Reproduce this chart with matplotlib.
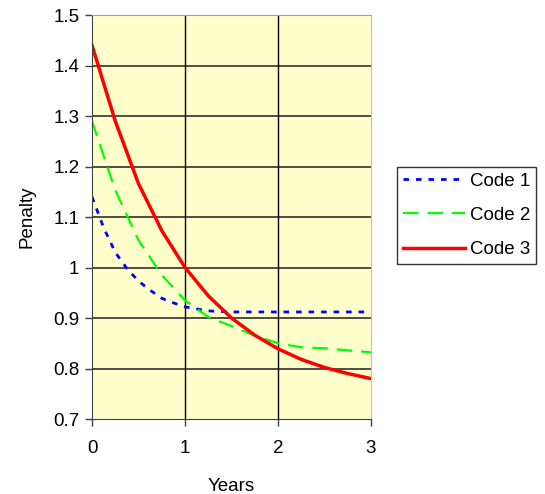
import numpy as np
import matplotlib
matplotlib.use("Agg")
import matplotlib.pyplot as plt

plt.rcParams['font.family'] = ['Liberation Sans', 'DejaVu Sans']

# values
years_1 = [0, 0.125, 0.25, 0.375, 0.5, 0.625, 0.75, 0.875, 1.0, 1.25, 1.5, 1.75, 2.0, 2.25, 2.5, 2.75, 3.0]
code_1 = [1.14, 1.079, 1.03, 0.998, 0.973, 0.955, 0.939, 0.93, 0.922, 0.914, 0.912, 0.912, 0.912, 0.912, 0.912, 0.912, 0.912]

years_2 = [0, 0.25, 0.5, 0.75, 1.0, 1.25, 1.5, 1.75, 2.0, 2.25, 2.5, 2.75, 3.0]
code_2 = [1.29, 1.153, 1.054, 0.985, 0.935, 0.902, 0.884, 0.865, 0.85, 0.842, 0.840, 0.836, 0.832]

years_3 = [0, 0.25, 0.5, 0.75, 1.0, 1.25, 1.5, 1.75, 2.0, 2.25, 2.5, 2.75, 3.0]
code_3 = [1.44, 1.29, 1.166, 1.073, 1.0, 0.944, 0.9, 0.866, 0.839, 0.818, 0.802, 0.79, 0.78]

labels = ['Code 1', 'Code 2', 'Code 3']
yticks = [0.7, 0.8, 0.9, 1.0, 1.1, 1.2, 1.3, 1.4, 1.5]
ytick_labels = ['0.7', '0.8', '0.9', '1', '1.1', '1.2', '1.3', '1.4', '1.5']
xticks = [0, 1, 2, 3]

fig = plt.figure(figsize=(5.45, 4.94), dpi=100)
ax = fig.add_axes([92/545, 1-419/494, (371-92)/545, (419-15)/494])
ax.set_facecolor('#FFFFCC')

ax.plot(years_1, code_1, color='#0000FF', lw=2, ls=(0, (2, 2.5)), label=labels[0])
ax.plot(years_2, code_2, color='#00FF00', lw=1.6, ls=(0, (7, 4)), label=labels[1])
ax.plot(years_3, code_3, color='#FF0000', lw=2.5, label=labels[2])

ax.set_xlim(0, 3)
ax.set_ylim(0.7, 1.5)
ax.set_xticks(xticks)
ax.set_xticklabels([str(x) for x in xticks])
ax.set_yticks(yticks)
ax.set_yticklabels(ytick_labels)

# grid
for y in yticks[1:]:
    ax.axhline(y, color='#303030', lw=1.2, zorder=1)
for x in xticks[1:-1]:
    ax.axvline(x, color='black', lw=1, zorder=1)

ax.spines['left'].set_color('#404040')
ax.spines['bottom'].set_color('#404040')
ax.spines['top'].set_color('#a0a0a0')
ax.spines['right'].set_color('#c0c0c0')
ax.tick_params(direction='out', length=5, width=1, color='#404040', labelsize=13.5, pad=4)
ax.tick_params(axis='x', pad=10)

ax.set_xlabel('Years', fontsize=13.5, labelpad=15)
ax.set_ylabel('Penalty', fontsize=13.5, labelpad=13)

leg = ax.legend(loc='lower left', bbox_to_anchor=(397/545, 1-264/494), bbox_transform=fig.transFigure,
                fontsize=13.5, frameon=True, fancybox=False, shadow=False,
                handlelength=3.3, handletextpad=0.3, labelspacing=0.92, borderpad=0.3,
                borderaxespad=0)
leg.get_frame().set_edgecolor('black')
leg.get_frame().set_linewidth(1)

fig.savefig('out.png', dpi=100)
